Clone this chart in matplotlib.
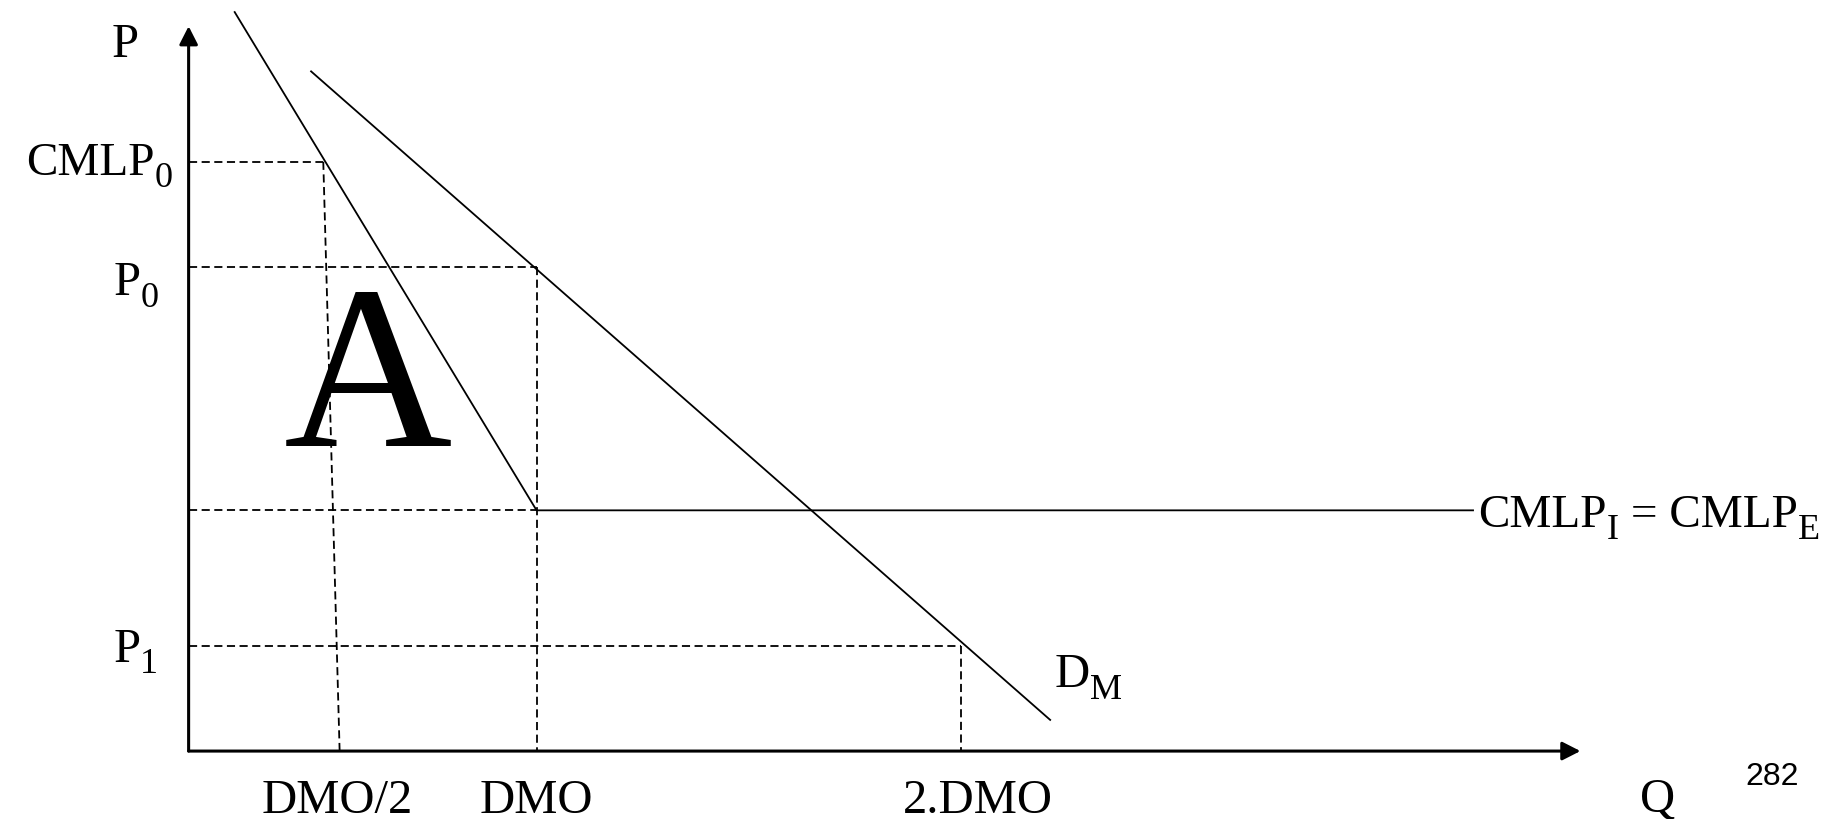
import matplotlib
matplotlib.use("Agg")
import matplotlib.pyplot as plt
from matplotlib.transforms import offset_copy

plt.rcParams['font.family'] = ['Liberation Serif', 'DejaVu Serif']

# ---- data (Q in units of DMO, P in units of CMLP_I) ----
mr_q = [0.131, 1.0, 3.694]          # steep curve then flat CMLP_I = CMLP_E
mr_p = [3.073, 1.0, 1.0]
dm_q = [0.350, 2.478]               # demand D_M
dm_p = [2.826, 0.127]

cmlp0 = 2.448
p0 = 2.010
cmlpi = 1.0
p1 = 0.436
q_half_top = 0.387
q_half_bot = 0.434
q_dmo = 1.0
q_2dmo = 2.219

x_end = 4.0
y_end = 3.011

xlim = (-0.5421, 4.7374)
ylim = (-0.2822, 3.1241)

fs = 35      # main label size
fs_c = 34    # CMLP labels
fsub = 26    # subscript size
sub_dy = -8.6  # subscript baseline shift in points

fig = plt.figure(figsize=(18.37, 8.2), dpi=100)
ax = fig.add_axes([0, 0, 1, 1])
ax.set_xlim(*xlim)
ax.set_ylim(*ylim)
ax.axis('off')
renderer = fig.canvas.get_renderer()


def rich(x, y, pieces, ha='left'):
    """Place a run of text pieces (text, size, dy_pts) starting at data (x, y)."""
    arts = []
    widths = []
    for s, size, dy in pieces:
        t = ax.text(x, y, s, fontsize=size, ha='left', va='baseline')
        w = t.get_window_extent(renderer=renderer).width * 72.0 / fig.dpi
        arts.append((t, dy))
        widths.append(w)
    total = sum(widths)
    start = 0.0 if ha == 'left' else (-total if ha == 'right' else -total / 2)
    cur = start
    for (t, dy), w in zip(arts, widths):
        t.set_transform(offset_copy(ax.transData, fig=fig, x=cur, y=dy, units='points'))
        cur += w
    return arts


# axes with arrows
arrow = dict(arrowstyle='-|>,head_length=0.55,head_width=0.28', lw=2.2,
             color='black', mutation_scale=20, shrinkA=0, shrinkB=0)
ax.annotate('', xy=(0, y_end), xytext=(0, 0), arrowprops=arrow)
ax.annotate('', xy=(x_end, 0), xytext=(0, 0), arrowprops=arrow)

# solid curves
ax.plot(mr_q, mr_p, color='black', lw=1.3, solid_capstyle='butt')
ax.plot(dm_q, dm_p, color='black', lw=1.3, solid_capstyle='butt')

# dashed guides
dk = dict(color='black', lw=1.3, dashes=(4.5, 2.5))
ax.plot([0, q_half_top], [cmlp0, cmlp0], **dk)
ax.plot([q_half_top, q_half_bot], [cmlp0, 0], **dk)
ax.plot([0, q_dmo], [p0, p0], **dk)
ax.plot([q_dmo, q_dmo], [p0, 0], **dk)
ax.plot([0, q_dmo], [cmlpi, cmlpi], **dk)
ax.plot([0, q_2dmo], [p1, p1], **dk)
ax.plot([q_2dmo, q_2dmo], [p1, 0], **dk)

# labels
ax.text(-0.182, 2.887, 'P', fontsize=fs, ha='center', va='baseline')
rich(-0.046, 2.397, [('CMLP', fs_c, 0), ('0', fsub, sub_dy)], ha='right')
rich(-0.217, 1.899, [('P', fs, 0), ('0', fsub, sub_dy)])
rich(-0.217, 0.376, [('P', fs, 0), ('1', fsub, sub_dy)])
ax.text(0.428, -0.255, 'DMO/2', fontsize=fs, ha='center', va='baseline')
ax.text(1.0, -0.255, 'DMO', fontsize=fs, ha='center', va='baseline')
ax.text(2.269, -0.255, '2.DMO', fontsize=fs, ha='center', va='baseline')
ax.text(4.222, -0.248, 'Q', fontsize=fs, ha='center', va='baseline')
ax.text(4.552, -0.136, '282', fontsize=23, ha='center', va='baseline',
        family='Liberation Sans')
rich(3.707, 0.935, [('CMLP', fs_c, 0), ('I', fsub, sub_dy), (' = CMLP', fs_c, 0),
                    ('E', fsub, sub_dy)])
rich(2.489, 0.271, [('D', fs, 0), ('M', fsub, sub_dy)])
ax.text(0.515, 1.270, 'A', fontsize=168, ha='center', va='baseline')

fig.savefig('out.png', dpi=100)
